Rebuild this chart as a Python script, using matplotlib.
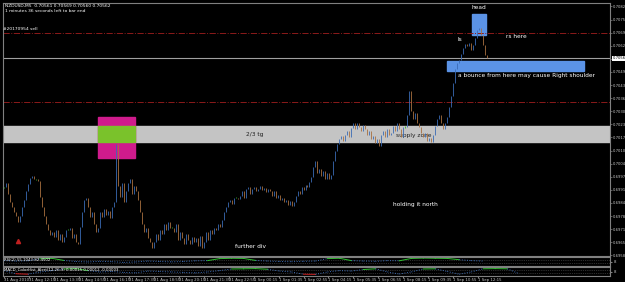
import numpy as np
import matplotlib.pyplot as plt
from matplotlib.patches import Rectangle

# NZDUSD M5 closes, in points (price * 1e5) left to right
closes_pts = [
    69922, 69942, 69892, 69852, 69827, 69802, 69782, 69752,
    69782, 69827, 69862, 69902, 69937, 69967, 69977,
    69962, 69962, 69952,
    69877, 69827, 69782, 69742, 69712, 69687, 69702,
    69677, 69712, 69662, 69692, 69652,
    69677, 69712, 69712, 69722, 69672, 69692, 69652,
    69642,
    69727, 69802, 69862, 69872,
    69827, 69777, 69802, 69742, 69702, 69722,
    69802, 69777, 69817, 69787, 69807, 69772, 69827,
    69852,
    70137, 69927,
    69877, 69942, 69852, 69902, 69942, 69962, 69892, 69927,
    69902, 69862, 69802,
    69742, 69702, 69722, 69672, 69652, 69622,
    69652,
    69692, 69662, 69712, 69692,
    69742, 69712, 69752, 69722, 69722, 69702,
    69742, 69662, 69702,
    69672, 69642, 69692, 69662, 69642, 69677, 69652,
    69672, 69632, 69682, 69622, 69652,
    69702, 69662, 69712,
    69692, 69722, 69712, 69742, 69727, 69762,
    69802, 69827, 69852, 69862, 69842,
    69872, 69872, 69867, 69882,
    69902, 69872, 69912, 69922, 69892, 69912,
    69922, 69902, 69912, 69927, 69907, 69917, 69897, 69912,
    69902, 69882, 69902, 69872, 69887, 69862, 69872,
    69852, 69862, 69837, 69857, 69832, 69852,
    69882, 69902, 69892, 69922, 69907, 69932, 69922, 69947, 69972,
    70022, 70052, 69992, 70012,
    69977, 70002, 69962, 69992, 69962, 69982,
    70052, 70102, 70137,
    70162, 70177, 70152, 70182,
    70202, 70172, 70217,
    70242, 70212,
    70242, 70222, 70202, 70232, 70212, 70182,
    70202, 70162, 70177, 70142, 70162, 70127,
    70182, 70202, 70172, 70212, 70182, 70192,
    70227, 70202, 70242, 70212, 70172,
    70222, 70222, 70282,
    70402,
    70302, 70262, 70292, 70242, 70222,
    70192, 70172, 70192, 70152, 70167, 70147, 70182,
    70227, 70262, 70282, 70242, 70212,
    70242, 70272,
    70322, 70377, 70442,
    70512, 70537,
    70552, 70582, 70612, 70632, 70622, 70637,
    70602, 70627, 70662,
    70702, 70712,
    70677, 70627, 70577, 70562,
]
closes = np.array(closes_pts) / 1e5
opens = np.concatenate([[closes[0]], closes[:-1]])

price_ticks = [0.70820 - 0.00065 * k for k in range(20)]
current_price = 0.70562
order_lines = [0.70688, 0.70346]
date_labels = ['31 Aug 2010', '31 Aug 12:15', '31 Aug 13:35', '31 Aug 14:55',
               '31 Aug 16:15', '31 Aug 17:35', '31 Aug 18:55', '31 Aug 20:15',
               '31 Aug 21:35', '31 Aug 22:55', '1 Sep 00:15', '1 Sep 01:35',
               '1 Sep 02:55', '1 Sep 04:15', '1 Sep 05:35', '1 Sep 06:55',
               '1 Sep 08:15', '1 Sep 09:35', '1 Sep 10:55', '1 Sep 12:15']

# oscillators in the two sub windows (one value per 6 bars)
osc1 = [60, 55, 58, 80, 85, 62, 50, 45, 52, 48, 40, 45, 55, 50, 46, 50, 58, 60,
        82, 86, 84, 62, 55, 50, 48, 52, 55, 82, 86, 60, 55, 52, 60, 58, 84, 88,
        86, 84, 70, 60, 55]
osc2 = [60, 25, 20, 45, 60, 78, 82, 60, 45, 50, 40, 35, 55, 50, 45, 40, 35, 45,
        60, 78, 80, 82, 75, 55, 45, 20, 18, 45, 60, 55, 72, 80, 45, 22, 45, 78,
        80, 50, 20, 45, 80, 82, 80, 25]

up_col = '#3a6bb5'
dn_col = '#a8703f'
doji_col = '#2fb82f'
bg = 'black'
frame = '#808080'
txt = '#c8c8c8'

fig = plt.figure(figsize=(6.25, 2.82), dpi=100, facecolor=bg)
W, H = 625.0, 282.0
x0, x1 = 3, 610


def box(top, bot):
    return [x0 / W, 1 - bot / H, (x1 - x0) / W, (bot - top) / H]


ax = fig.add_axes(box(3, 256), facecolor=bg)
ax1 = fig.add_axes(box(257, 266), facecolor=bg, sharex=ax)
ax2 = fig.add_axes(box(267, 276), facecolor=bg, sharex=ax)

n = len(closes)
idx = np.arange(n)
xmax = 303.5

# zones
ax.axhspan(0.70148, 0.70227, color='#c4c4c4', zorder=1)
ax.add_patch(Rectangle((47, 0.70068), 18.5, 0.00204, color='#cf1b8c', zorder=2))
ax.add_patch(Rectangle((47, 0.70148), 18.5, 0.00079, color='#7ac22b', zorder=3))
ax.add_patch(Rectangle((234.5, 0.70678), 7, 0.00104, color='#5b93e6', zorder=2))
ax.add_patch(Rectangle((222, 0.70500), 68.5, 0.00049, color='#5b93e6', zorder=2))

for lvl in order_lines:
    ax.axhline(lvl, color='#8b1a1a', lw=0.7, ls='-.', zorder=2)
ax.axhline(current_price, color='#a0a0a0', lw=0.8, zorder=2)

# candles (open -> close)
for i in idx:
    o, c = opens[i], closes[i]
    if c > o:
        col = up_col
    elif c < o:
        col = dn_col
    else:
        col = doji_col
    lo, hi = min(o, c), max(o, c)
    if hi - lo < 0.00004:
        lo, hi = lo - 0.00003, hi + 0.00003
    ax.vlines(i, lo, hi, color=col, lw=0.6, zorder=4)

ax.plot(7, 0.69657, marker='^', color='#c02020', ms=3, zorder=5)

# annotations
fs = 4.2
ax.text(238, 0.70800, 'head', color='white', fontsize=fs, ha='center', va='bottom', zorder=6)
ax.text(227, 0.70654, 'ls', color='white', fontsize=fs, va='center', zorder=6)
ax.text(251.5, 0.70673, 'rs here', color='white', fontsize=fs, va='center', zorder=6)
ax.text(227.5, 0.70475, 'a bounce from here may cause Right shoulder', color='white',
        fontsize=fs, va='center', zorder=6)
ax.text(121, 0.70185, '2/3 tg', color='#202020', fontsize=fs, va='center', zorder=6)
ax.text(196.5, 0.70180, 'supply zone', color='#202020', fontsize=fs, va='center', zorder=3)
ax.text(195, 0.69835, 'holding it north', color='white', fontsize=fs, va='center', zorder=6)
ax.text(115.5, 0.69627, 'further div', color='white', fontsize=fs, va='center', zorder=6)
ax.text(-0.3, 0.70700, '#20170954 sell', color='white', fontsize=3.2, va='bottom', zorder=6)
ax.text(0.003, 0.995, 'NZDUSD,M5  0.70561 0.70569 0.70560 0.70562', color='white',
        fontsize=3.2, va='top', transform=ax.transAxes)
ax.text(0.003, 0.975, '1 minutes 36 seconds left to bar end', color='white',
        fontsize=3.2, va='top', transform=ax.transAxes)

ax.set_xlim(-0.5, xmax)
ax.set_ylim(0.69582, 0.70837)
ax.yaxis.tick_right()
ax.set_yticks(price_ticks)
ax.set_yticklabels(['%.5f' % p for p in price_ticks])
ax.tick_params(axis='y', colors=frame, labelcolor=txt, labelsize=2.7, length=1.5, width=0.5, pad=0.8)
ax.tick_params(axis='x', bottom=False, labelbottom=False)
ax.text(1.004, (current_price - 0.69582) / (0.70837 - 0.69582), '%.5f' % current_price,
        transform=ax.transAxes, fontsize=2.7, color='black', va='center', ha='left',
        bbox=dict(facecolor='white', edgecolor='none', pad=0.3))

# sub windows
for a, series, name in [(ax1, osc1, 'RSI(2) 55.1043 82.4502'),
                        (ax2, osc2, 'MACD_ColorHist_Alert(12,26,9) 0.00015 0.00012 -0.00003')]:
    a.set_ylim(0, 100)
    for lvl in (30, 70):
        a.axhline(lvl, color='#5a5a5a', lw=0.5, ls=':')
    s = np.array(series)
    xo = np.arange(len(s)) * 6
    for k in range(len(s) - 1):
        v = (s[k] + s[k + 1]) / 2
        col = '#30c030' if v > 70 else ('#d02020' if v < 30 else '#3f6fb8')
        a.plot(xo[k:k + 2], s[k:k + 2], color=col, lw=0.7,
               ls='-' if col != '#3f6fb8' else ':')
    a.text(0.002, 0.92, name, color='white', fontsize=2.8, va='top', transform=a.transAxes)
    a.yaxis.tick_right()
    a.set_yticks([50])
    a.set_yticklabels(['8'])
    a.tick_params(axis='y', colors=frame, labelcolor=txt, labelsize=2.8, length=1.5, pad=1)
    a.tick_params(axis='x', bottom=False, labelbottom=False)

ax2.tick_params(axis='x', bottom=True, labelbottom=True, colors=frame, labelcolor=txt,
                labelsize=2.8, length=1.2, pad=0.5)
date_pos = [12.5 * k for k in range(len(date_labels))]
ax2.set_xticks(date_pos)
ax2.set_xticklabels(date_labels, ha='left')

for a in (ax, ax1, ax2):
    for sp in a.spines.values():
        sp.set_color(frame)
        sp.set_linewidth(0.8)

fig.savefig('out.png', dpi=100, facecolor=bg)
